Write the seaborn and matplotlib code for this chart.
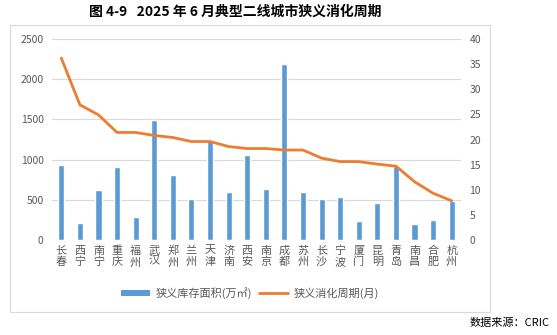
import numpy as np
import pandas as pd
import matplotlib
matplotlib.use("Agg")
import matplotlib.pyplot as plt
from matplotlib.patches import Rectangle
from matplotlib.lines import Line2D
from matplotlib.patches import Patch
import seaborn as sns

cities = ["长春", "西宁", "南宁", "重庆", "福州", "武汉", "郑州", "兰州", "天津", "济南", "西安",
          "南京", "成都", "苏州", "长沙", "宁波", "厦门", "昆明", "青岛", "南昌", "合肥", "杭州"]
inventory = [935, 215, 622, 912, 288, 1493, 809, 512, 1244, 597, 1057,
             634, 2190, 597, 512, 535, 236, 462, 920, 200, 250, 488]
cycle = [36.2, 26.9, 24.9, 21.4, 21.4, 20.8, 20.4, 19.6, 19.6, 18.6, 18.2,
         18.2, 17.9, 17.9, 16.3, 15.6, 15.6, 15.1, 14.7, 11.6, 9.3, 7.8]
left_ticks = [0, 500, 1000, 1500, 2000, 2500]
right_ticks = [0, 5, 10, 15, 20, 25, 30, 35, 40]

sns.set_theme(style="white")
plt.rcParams["font.family"] = ["Noto Sans CJK SC", "DejaVu Sans"]

bar_color = "#5B9BD5"
line_color = "#ED7D31"
text_color = "#595959"

fig = plt.figure(figsize=(5.57, 3.35), dpi=100)
ax = fig.add_axes([52 / 557, 1 - 240 / 335, (461 - 52) / 557, (240 - 39) / 335])

df = pd.DataFrame({"city": cities, "inventory": inventory, "cycle": cycle})
df["label"] = ["\n".join(c) for c in cities]

sns.barplot(data=df, x="label", y="inventory", color=bar_color, width=0.33,
            saturation=1, ax=ax, zorder=2)
ax.set_xlim(-0.5, len(cities) - 0.5)
ax.set_ylim(0, 2500)
ax.set_yticks(left_ticks)
ax.yaxis.grid(True, color="#D9D9D9", linewidth=0.8, zorder=0)
ax.set_axisbelow(True)
for s in ax.spines.values():
    s.set_visible(False)
ax.set_xlabel("")
ax.set_ylabel("")
ax.tick_params(axis="y", length=0, labelsize=7.5, labelcolor=text_color, pad=6)
ax.tick_params(axis="x", length=0, labelsize=8, labelcolor=text_color, pad=4)
for t in ax.get_xticklabels():
    t.set_linespacing(1.15)

ax2 = ax.twinx()
sns.lineplot(x=np.arange(len(cities)), y=cycle, ax=ax2, color=line_color,
             linewidth=2.0, zorder=3)
ax2.set_ylim(0, 40)
ax2.set_yticks(right_ticks)
ax2.set_ylabel("")
for s in ax2.spines.values():
    s.set_visible(False)
ax2.tick_params(axis="y", length=0, labelsize=7.5, labelcolor=text_color, pad=6)
ax2.grid(False)

handles = [Patch(facecolor=bar_color, edgecolor="none"),
           Line2D([0], [0], color=line_color, linewidth=2.0)]
fig.legend(handles, ["狭义库存面积(万㎡)", "狭义消化周期(月)"],
           loc="center", bbox_to_anchor=(250 / 557, 1 - 293 / 335), ncol=2,
           frameon=False, fontsize=8, labelcolor=text_color,
           handlelength=2.6, handleheight=0.5, columnspacing=0.6, handletextpad=0.5)

fig.patches.append(Rectangle((10 / 557, 1 - 312 / 335), (490 - 10) / 557, (312 - 25) / 335,
                             transform=fig.transFigure, fill=False,
                             edgecolor="#D9D9D9", linewidth=0.8))

fig.text(235 / 557, 1 - 12 / 335, "图 4-9   2025 年 6 月典型二线城市狭义消化周期",
         ha="center", va="center", fontsize=10, fontweight="bold", color="black")
fig.text(550 / 557, 1 - 323 / 335, "数据来源：CRIC", ha="right", va="center",
         fontsize=8, color="black")

fig.savefig("out.png", dpi=100, facecolor="white")
